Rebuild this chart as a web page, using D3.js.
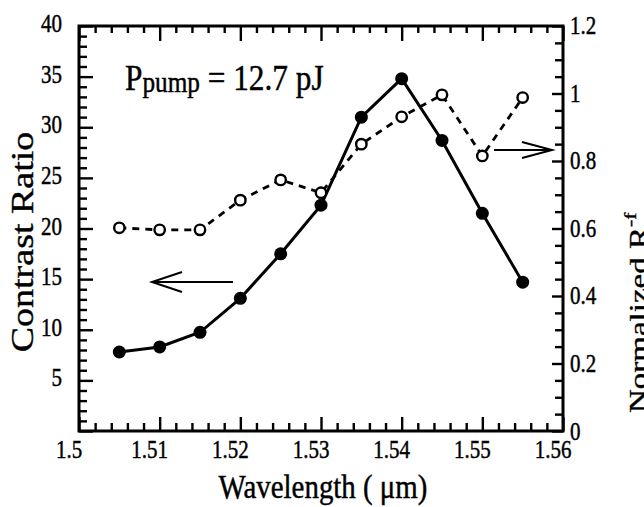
<!DOCTYPE html>
<html><head><meta charset="utf-8">
<script src="https://cdn.jsdelivr.net/npm/d3@7"></script>
<style>body{margin:0;background:#fff}svg{display:block}text{font-family:"Liberation Serif","DejaVu Serif",serif;fill:#000;stroke:#000;stroke-width:0.45}</style>
</head><body>
<svg id="c" width="644" height="507"></svg>
<script>
// ---- data ----
const wavelength = [1.505,1.51,1.515,1.52,1.525,1.53,1.535,1.54,1.545,1.55,1.555];
const contrastRatio = [7.8,8.3,9.75,13.1,17.5,22.3,31.0,34.8,28.7,21.5,14.7];
const normalizedR = [0.602,0.596,0.596,0.684,0.744,0.706,0.850,0.931,0.996,0.815,0.988];
const xTicks = [1.5,1.51,1.52,1.53,1.54,1.55,1.56];
const xTickLabels = ["1.5","1.51","1.52","1.53","1.54","1.55","1.56"];
const yLeftTicks = [0,5,10,15,20,25,30,35,40];
const yLeftLabels = ["0","5","10","15","20","25","30","35","40"];
const yRightTicks = [0,0.2,0.4,0.6,0.8,1,1.2];
const yRightLabels = ["0","0.2","0.4","0.6","0.8","1","1.2"];

const L=79,R=563,T=26,B=431, SX=0.84;
const svg=d3.select("#c");
const x=d3.scaleLinear().domain([1.5,1.56]).range([L,R]);
const yl=d3.scaleLinear().domain([0,40]).range([B,T]);
const yr=d3.scaleLinear().domain([0,1.2]).range([B,T]);

const xMinor=d3.range(0,31).map(i=>1.5+i*0.002).filter(v=>!xTicks.some(t=>Math.abs(t-v)<1e-9));
const ylMinor=d3.range(0,41).filter(v=>v%5!==0);
const yrMinor=d3.range(0,25).map(i=>i*0.05).filter(v=>!yRightTicks.some(t=>Math.abs(t-v)<1e-9));

function ax(gen,tr,vals,size){
  const g=svg.append("g").attr("transform",tr)
   .call(gen.tickValues(vals).tickSize(size).tickFormat(""));
  g.select(".domain").remove();
  g.selectAll(".tick line").attr("stroke","#000").attr("stroke-width",2.4);
  return g;
}
ax(d3.axisBottom(x),`translate(0,${B})`,xTicks,-14);
ax(d3.axisBottom(x),`translate(0,${B})`,xMinor,-8);
ax(d3.axisTop(x),`translate(0,${T})`,xTicks,-15);
ax(d3.axisTop(x),`translate(0,${T})`,xMinor,-7);
ax(d3.axisLeft(yl),`translate(${L},0)`,yLeftTicks,-14);
ax(d3.axisLeft(yl),`translate(${L},0)`,ylMinor,-8);
ax(d3.axisRight(yr),`translate(${R},0)`,yRightTicks,-11);
ax(d3.axisRight(yr),`translate(${R},0)`,yrMinor,-8);

svg.append("rect").attr("x",L).attr("y",T).attr("width",R-L).attr("height",B-T)
 .attr("fill","none").attr("stroke","#000").attr("stroke-width",3);

// tick labels
function lab(px,py,txt,anchor,size){
  return svg.append("text").attr("transform",`translate(${px},${py}) scale(${SX},1)`)
   .attr("text-anchor",anchor).attr("font-size",size).text(txt);
}
xTicks.forEach((v,i)=>lab(x(v)-10,458,xTickLabels[i],"middle",25));
svg.append("clipPath").attr("id","cl").append("rect").attr("x",0).attr("y",0).attr("width",78).attr("height",B);
yLeftTicks.forEach((v,i)=>lab(62,yl(v)+6,yLeftLabels[i],"end",25).attr("clip-path",i===0?"url(#cl)":null));
yRightTicks.forEach((v,i)=>lab(570,yr(v)+(i===0?9:8),yRightLabels[i],"start",25));

// axis titles
svg.append("text").attr("transform",`translate(323,498) scale(0.85,1)`).attr("text-anchor","middle")
 .attr("font-size",34).text("Wavelength ( μm)");
svg.append("text").attr("transform",`translate(33,242) scale(${SX},1) rotate(-90)`).attr("text-anchor","middle")
 .attr("font-size",38).text("Contrast Ratio");
const rt=svg.append("text").attr("transform",`translate(647,413) scale(0.78,1) rotate(-90)`).attr("text-anchor","start")
 .attr("font-size",33);
rt.append("tspan").text("Normalized R");
rt.append("tspan").attr("font-size",22).attr("dy",-14).text("-f");

// annotation
const an=svg.append("text").attr("transform",`translate(125,90) scale(0.87,1)`).attr("font-size",36);
an.append("tspan").text("P");
an.append("tspan").attr("font-size",29).attr("dy",2).text("pump");
an.append("tspan").attr("dy",-2).text(" = 12.7 pJ");

// lines
const pts=wavelength.map((w,i)=>({w,c:contrastRatio[i],n:normalizedR[i]}));
svg.append("path").datum(pts).attr("fill","none").attr("stroke","#000").attr("stroke-width",2.8)
 .attr("stroke-dasharray","7,6")
 .attr("d",d3.line().x(d=>x(d.w)).y(d=>yr(d.n)));
svg.append("path").datum(pts).attr("fill","none").attr("stroke","#000").attr("stroke-width",3)
 .attr("d",d3.line().x(d=>x(d.w)).y(d=>yl(d.c)));
svg.selectAll(".o").data(pts).join("circle").attr("cx",d=>x(d.w)).attr("cy",d=>yr(d.n)).attr("r",5.2)
 .attr("fill","#fff").attr("stroke","#000").attr("stroke-width",2.4);
svg.selectAll(".f").data(pts).join("circle").attr("cx",d=>x(d.w)).attr("cy",d=>yl(d.c)).attr("r",6.5)
 .attr("fill","#000");

// arrows
function arrow(x1,x2,yy,h,dx){
  const g=svg.append("g").attr("stroke","#000").attr("stroke-width",2).attr("fill","none");
  g.append("line").attr("x1",x1).attr("x2",x2).attr("y1",yy).attr("y2",yy);
  g.append("polyline").attr("points",`${x2+dx},${yy-h} ${x2},${yy} ${x2+dx},${yy+h}`);
}
arrow(233,152,282,10,30);
arrow(494,552,150,8,-30);
</script>
</body></html>
